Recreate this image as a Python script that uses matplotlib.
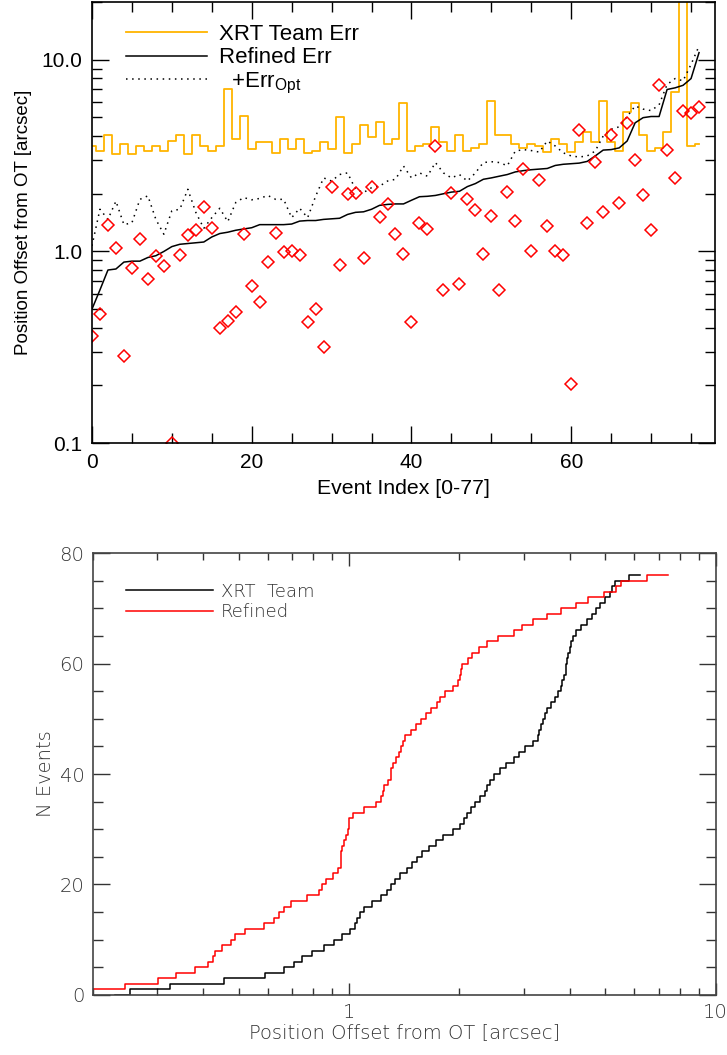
import matplotlib
matplotlib.use("Agg")
import matplotlib.pyplot as plt
import numpy as np
from matplotlib.ticker import FixedLocator, MultipleLocator, LogLocator, NullFormatter, FixedFormatter

# event index 0..76
event_idx = np.arange(77)

# XRT team error radius per event (arcsec)
xrt_err = [3.55, 3.34, 4.03, 3.24, 3.65, 3.24, 3.55, 3.34, 3.55, 3.34,
           3.77, 4.03, 3.24, 4.03, 3.55, 3.34, 3.55, 7.07, 3.84, 5.09,
           3.44, 3.72, 3.72, 3.25, 3.84, 3.44, 3.84, 3.25, 3.34, 3.72,
           3.44, 5.05, 3.25, 3.65, 4.55, 3.95, 4.73, 3.65, 3.84, 5.98,
           3.34, 3.55, 3.65, 4.46, 3.72, 3.34, 4.03, 3.34, 3.45, 3.65,
           6.10, 4.03, 4.03, 3.65, 3.45, 3.65, 3.55, 3.30, 3.84, 3.65,
           3.30, 3.72, 4.18, 3.72, 6.10, 3.72, 3.34, 5.35, 5.98, 4.03,
           3.34, 3.45, 4.18, 6.79, 30.0, 3.55, 3.65]

# refined error radius
refined_err = [0.50, 0.63, 0.80, 0.81, 0.88, 0.89, 0.89, 0.93, 0.95, 1.00,
               1.06, 1.09, 1.10, 1.11, 1.12, 1.19, 1.24, 1.26, 1.29, 1.31,
               1.33, 1.38, 1.38, 1.38, 1.38, 1.39, 1.44, 1.45, 1.45, 1.47,
               1.48, 1.49, 1.56, 1.60, 1.61, 1.66, 1.74, 1.76, 1.77, 1.77,
               1.85, 1.93, 1.94, 1.96, 2.00, 2.04, 2.06, 2.18, 2.26, 2.38,
               2.42, 2.47, 2.52, 2.60, 2.64, 2.67, 2.69, 2.71, 2.81, 2.85,
               2.87, 2.89, 2.95, 3.15, 3.38, 3.40, 3.47, 3.77, 4.69, 4.99,
               5.06, 5.06, 7.00, 7.14, 7.36, 7.98, 10.9]

# refined error + optical error
err_opt = [1.07, 1.66, 1.47, 1.83, 1.38, 1.41, 1.87, 1.95, 1.47, 1.23,
           1.63, 1.66, 2.11, 1.60, 1.32, 1.50, 1.68, 1.43, 1.80, 1.91,
           1.86, 1.89, 1.96, 1.87, 1.87, 1.50, 1.68, 1.50, 1.94, 2.42,
           2.33, 2.52, 2.57, 2.11, 2.03, 2.15, 2.19, 2.33, 2.38, 2.79,
           2.42, 2.57, 2.47, 2.91, 2.57, 2.42, 2.52, 2.33, 2.57, 2.91,
           2.94, 2.91, 2.80, 3.34, 3.40, 3.36, 3.30, 3.77, 3.55, 3.27,
           3.15, 3.11, 3.15, 3.34, 4.00, 4.34, 4.47, 5.06, 5.74, 5.53,
           5.43, 5.82, 7.43, 7.98, 7.77, 9.46, 11.8]

# offset of refined position from OT (red diamonds)
offset_refined = [0.36, 0.47, 1.37, 1.045, 0.286, 0.82, 1.155, 0.72, 0.945, 0.84,
                  0.10, 0.953, 1.22, 1.30, 1.71, 1.33, 0.40, 0.433, 0.482, 1.23,
                  0.659, 0.546, 0.884, 1.25, 0.99, 1.00, 0.953, 0.427, 0.498, 0.316,
                  2.17, 0.848, 2.00, 2.03, 0.927, 2.17, 1.51, 1.76, 1.24, 0.965,
                  0.427, 1.41, 1.31, 3.55, 0.626, 2.01, 0.673, 1.88, 1.64, 0.972,
                  1.54, 0.626, 2.04, 1.44, 2.70, 1.00, 2.35, 1.36, 1.00, 0.953,
                  0.204, 4.28, 1.40, 2.94, 1.60, 4.03, 1.78, 4.69, 2.99, 1.97,
                  1.30, 7.39, 3.37, 2.41, 5.41, 5.25, 5.64]

# offset of XRT team position from OT, sorted
offset_xrt = [0.23, 0.276, 0.374, 0.536, 0.641, 0.691, 0.726, 0.765, 0.825, 0.886,
              0.934, 0.983, 1.025, 1.046, 1.062, 1.076, 1.116, 1.191, 1.253, 1.292,
              1.317, 1.349, 1.41, 1.466, 1.509, 1.552, 1.615, 1.689, 1.759, 1.86,
              1.98, 2.047, 2.08, 2.128, 2.178, 2.237, 2.318, 2.373, 2.393, 2.443,
              2.531, 2.626, 2.75, 2.875, 2.93, 3.095, 3.267, 3.278, 3.306, 3.354,
              3.40, 3.44, 3.50, 3.60, 3.695, 3.754, 3.795, 3.843, 3.883, 3.907,
              3.928, 3.95, 3.978, 4.016, 4.062, 4.105, 4.20, 4.379, 4.542, 4.668,
              4.78, 4.906, 5.074, 5.193, 5.25, 5.40, 6.23]

top_font = ['Liberation Sans', 'DejaVu Sans']
bot_font = ['DejaVu Sans']
plt.rcParams['mathtext.fontset'] = 'custom'
plt.rcParams['mathtext.rm'] = 'Liberation Sans'
plt.rcParams['mathtext.it'] = 'Liberation Sans'

fig = plt.figure(figsize=(7.27, 10.55), dpi=100)

# ---- top panel
ax1 = fig.add_axes([0.1265, 0.580, 0.857, 0.418])
ax1.plot(event_idx, xrt_err, drawstyle='steps-mid', color='#ffb400', lw=1.3, label='XRT Team Err')
ax1.plot(event_idx, refined_err, color='black', lw=1.1, label='Refined Err')
ax1.plot(event_idx, err_opt, color='black', lw=1.1, ls=(0, (1, 3)), label=r'  +Err$_{\mathrm{Opt}}$')
ax1.plot(event_idx, offset_refined, ls='none', marker='D', ms=6.2, mfc='none', mec='red', mew=1.1)

ax1.set_yscale('log')
ax1.set_xlim(0, 78)
ax1.set_ylim(0.1, 20)
ax1.xaxis.set_major_locator(MultipleLocator(20))
ax1.xaxis.set_minor_locator(MultipleLocator(5))
ax1.yaxis.set_major_locator(FixedLocator([0.1, 1, 10]))
ax1.yaxis.set_major_formatter(FixedFormatter(['0.1', '1.0', '10.0']))
ax1.yaxis.set_minor_locator(LogLocator(base=10, subs=np.arange(2, 10)))
ax1.yaxis.set_minor_formatter(NullFormatter())
ax1.tick_params(which='both', direction='in', top=True, right=True, width=1, labelsize=15, pad=7)
ax1.tick_params(which='major', length=12)
ax1.tick_params(which='minor', length=7)
for lab in ax1.get_xticklabels() + ax1.get_yticklabels():
    lab.set_family(top_font)
ax1.set_xlabel('Event Index [0-77]', fontsize=15.3, family=top_font, labelpad=5)
ax1.set_ylabel('Position Offset from OT [arcsec]', fontsize=13.5, family=top_font, labelpad=7)
for s in ax1.spines.values():
    s.set_linewidth(1.2)
leg1 = ax1.legend(loc='upper left', bbox_to_anchor=(0.054, 0.95), frameon=False,
                  handlelength=3.65, handletextpad=0.55, labelspacing=0.1,
                  borderpad=0, borderaxespad=0, prop={'family': top_font, 'size': 16})

# ---- bottom panel
ax2 = fig.add_axes([0.1275, 0.057, 0.857, 0.4187])
y_rank = np.arange(len(offset_xrt))
ax2.step(offset_xrt, y_rank, where='mid', color='black', lw=1.1, label='XRT  Team')
ax2.step(np.sort(offset_refined), np.arange(len(offset_refined)), where='mid',
         color='red', lw=1.1, label='Refined')
ax2.set_xscale('log')
ax2.set_xlim(0.2, 10)
ax2.set_ylim(0, 80)
ax2.xaxis.set_major_locator(FixedLocator([1, 10]))
ax2.xaxis.set_major_formatter(FixedFormatter(['1', '10']))
ax2.xaxis.set_minor_locator(LogLocator(base=10, subs=np.arange(2, 10)))
ax2.xaxis.set_minor_formatter(NullFormatter())
ax2.yaxis.set_major_locator(MultipleLocator(20))
ax2.yaxis.set_minor_locator(MultipleLocator(5))
ax2.tick_params(which='both', direction='in', top=True, right=True, width=1,
                labelsize=14, colors='#333333', pad=6)
ax2.tick_params(axis='y', which='major', length=12)
ax2.tick_params(axis='y', which='minor', length=7)
ax2.tick_params(axis='x', which='major', length=9)
ax2.tick_params(axis='x', which='minor', length=5)
for lab in ax2.get_xticklabels() + ax2.get_yticklabels():
    lab.set_family(bot_font)
    lab.set_fontweight('light')
ax2.set_xlabel('Position Offset from OT [arcsec]', fontsize=14, family=bot_font,
               fontweight='light', color='#333333', labelpad=1)
ax2.set_ylabel('N Events', fontsize=14, family=bot_font, fontweight='light',
               color='#333333', labelpad=3)
for s in ax2.spines.values():
    s.set_linewidth(1.2)
    s.set_color('#444444')
leg2 = ax2.legend(loc='upper left', bbox_to_anchor=(0.054, 0.933), frameon=False,
                  handlelength=4.8, handletextpad=0.45, labelspacing=0.15,
                  borderpad=0, borderaxespad=0,
                  prop={'family': bot_font, 'size': 13, 'weight': 'light'})
for t in leg2.get_texts():
    t.set_color('#333333')

fig.savefig('out.png', dpi=100)
